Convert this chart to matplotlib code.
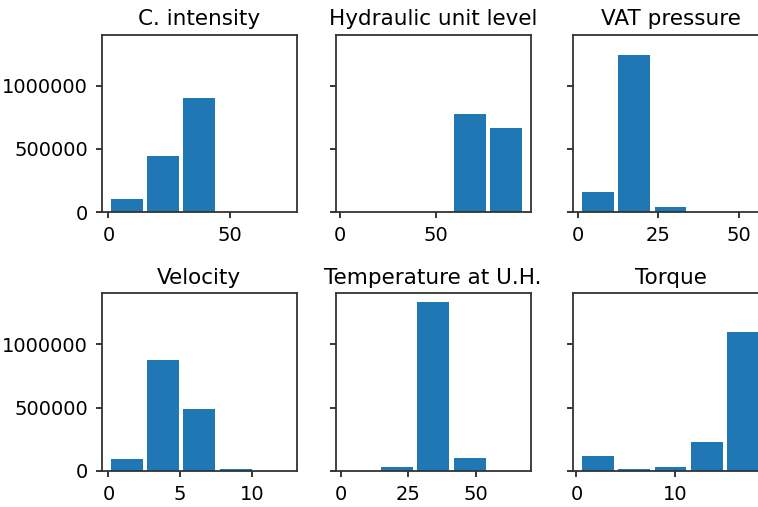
import matplotlib
matplotlib.use("Agg")
import matplotlib.pyplot as plt
import numpy as np

titles = ["C. intensity", "Hydraulic unit level", "VAT pressure",
          "Velocity", "Temperature at U.H.", "Torque"]

# data range (min, max) of each variable, split into 5 equal bins
ranges = [(0.0, 74.7), (1.4, 96.0), (0.5, 57.0),
          (0.0, 12.66), (0.5, 68.0), (0.33, 18.8)]

c_intensity = [100000, 444000, 899000, 0, 0]
hydraulic_level = [0, 0, 0, 778000, 664000]
vat_pressure = [161000, 1238000, 42000, 0, 0]
velocity = [93000, 873000, 490000, 13500, 0]
temperature_uh = [0, 29400, 1331000, 103000, 0]
torque = [119000, 13500, 29400, 224600, 1092800]

counts = [c_intensity, hydraulic_level, vat_pressure,
          velocity, temperature_uh, torque]

xticks = [[0, 50], [0, 50], [0, 25, 50], [0, 5, 10], [0, 25, 50], [0, 10]]

W, H = 758, 507
fig = plt.figure(figsize=(W / 100, H / 100), dpi=100)

col_left = [101.7, 335.7, 573.0]
ax_w = 195.0
row_top = [35.0, 293.3]
ax_h = [177.0, 177.7]

blue = "#1f77b4"
axes = []
for i in range(6):
    r, c = divmod(i, 3)
    left = col_left[c] / W
    bottom = (H - row_top[r] - ax_h[r]) / H
    rect = [left, bottom, ax_w / W, ax_h[r] / H]
    if i == 0:
        ax = fig.add_axes(rect)
    else:
        ax = fig.add_axes(rect, sharey=axes[0])
    axes.append(ax)
    lo, hi = ranges[i]
    edges = np.linspace(lo, hi, 6)
    centers = (edges[:-1] + edges[1:]) / 2
    ax.hist(centers, bins=edges, weights=counts[i], rwidth=0.88, color=blue)
    ax.set_title(titles[i], fontsize=15.5, pad=7)
    ax.set_xticks(xticks[i])
    ax.tick_params(labelsize=14, length=4, width=1.1, pad=6)
    for s in ax.spines.values():
        s.set_linewidth(1.3)
        s.set_color("#333333")
    if c != 0:
        ax.tick_params(labelleft=False)

axes[0].set_yticks([0, 500000, 1000000])
axes[0].ticklabel_format(axis="y", style="plain", useOffset=False)
axes[0].set_ylim(0, 1400000)

fig.savefig("out.png", dpi=100)
